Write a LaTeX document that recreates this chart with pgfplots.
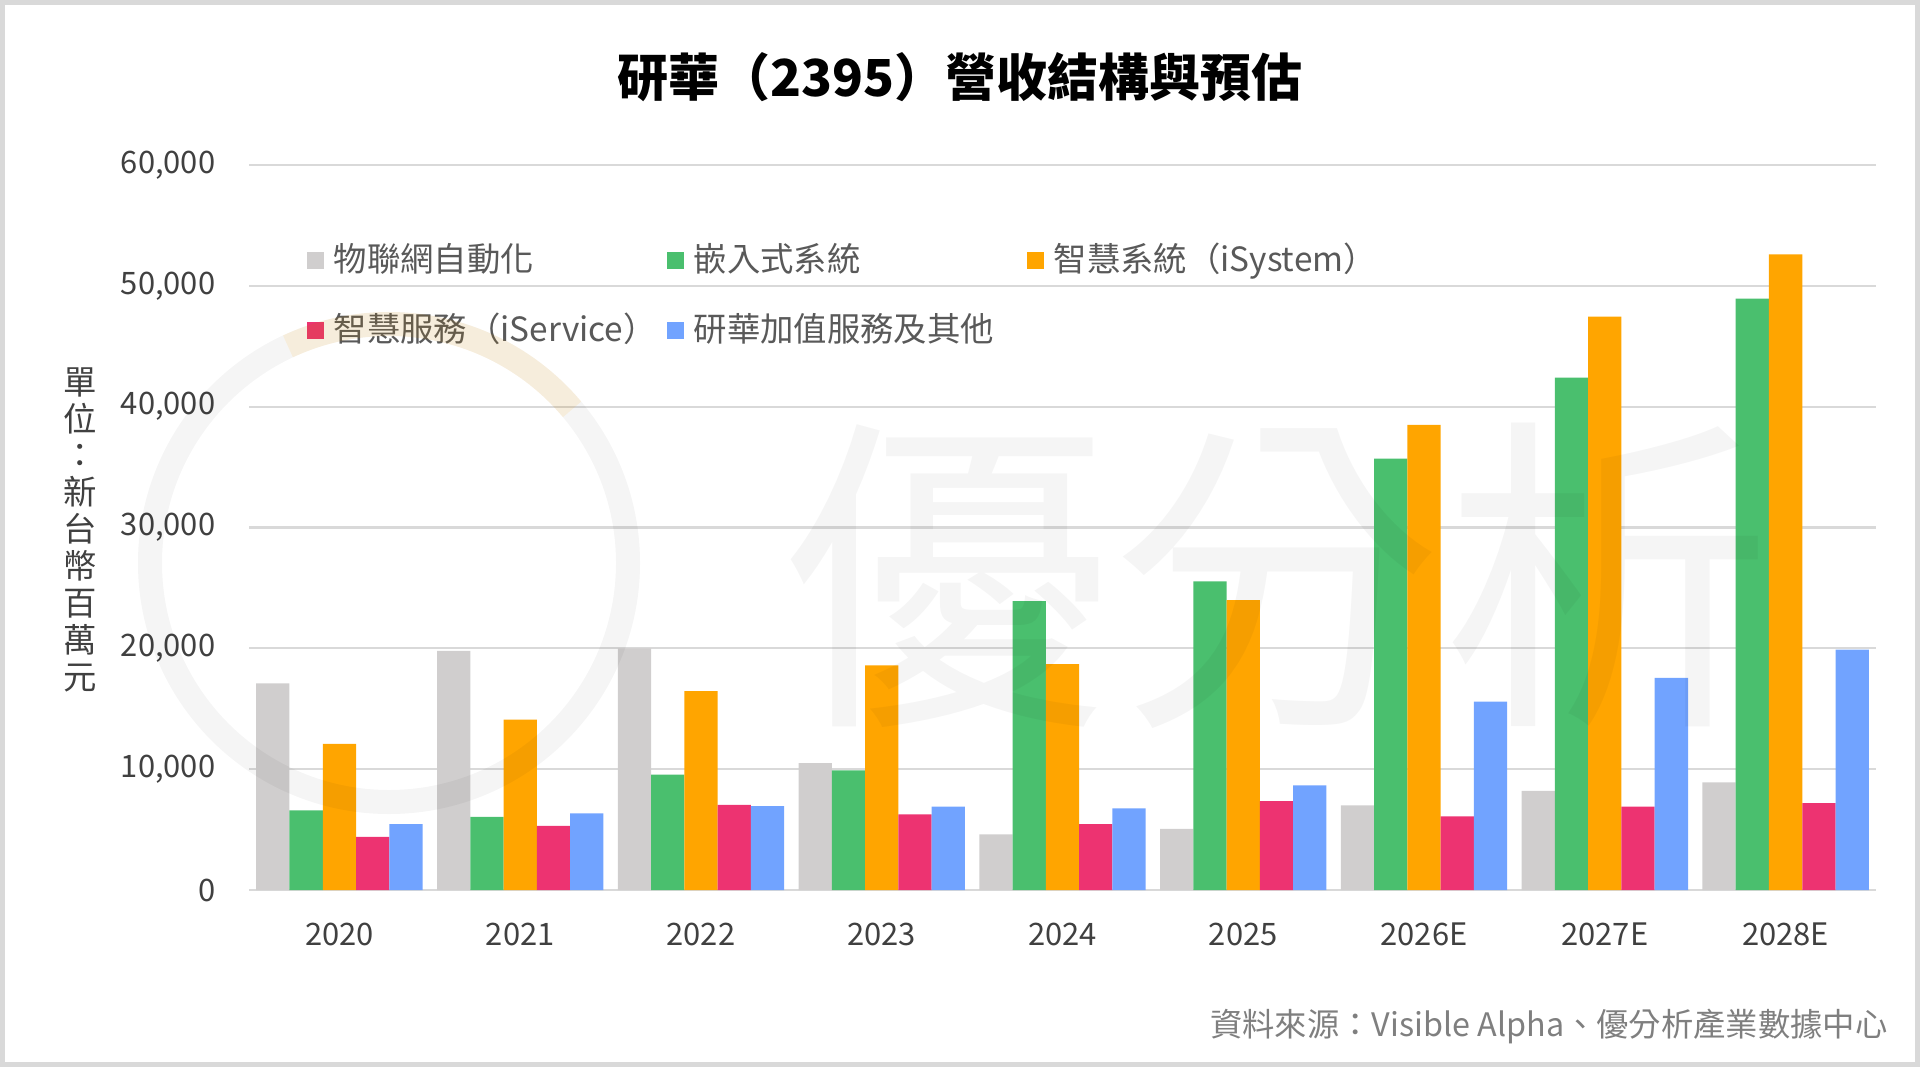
\documentclass[border=0pt]{standalone}
\usepackage{pgfplots}
\pgfplotsset{compat=1.18}
\usepackage{fontspec}
\setmainfont{Noto Sans CJK TC}
\definecolor{cgray}{HTML}{D0CECE}
\definecolor{cgreen}{HTML}{4ABF6E}
\definecolor{corange}{HTML}{FFA500}
\definecolor{cpink}{HTML}{ED3371}
\definecolor{cblue}{HTML}{71A3FF}
\definecolor{gridc}{HTML}{D9D9D9}
\definecolor{tickc}{HTML}{404040}
\definecolor{legc}{HTML}{595959}
\definecolor{srcc}{HTML}{7F7F7F}
\begin{document}
\begin{tikzpicture}
\useasboundingbox (0,0) rectangle (192mm,106.7mm);
\begin{axis}[
  at={(24.9mm,17.7mm)}, anchor=south west,
  scale only axis, width=162.7mm, height=72.5mm,
  xmin=-0.5, xmax=8.5, ymin=0, ymax=60000,
  ytick={0,10000,20000,30000,40000,50000,60000},
  xtick={0,1,2,3,4,5,6,7,8},
  xticklabels={2020,2021,2022,2023,2024,2025,2026E,2027E,2028E},
  ymajorgrids, grid style={color=gridc, line width=0.6pt},
  axis line style={draw=none},
  major tick length=0pt, tick style={draw=none},
  /pgf/number format/assume math mode=true,
  /pgf/number format/1000 sep={,},
  scaled y ticks=false,
  ticklabel style={font=\fontsize{8.8}{10}\selectfont, text=tickc},
  yticklabel style={anchor=east, inner sep=0pt, xshift=-3.3mm},
  xticklabel style={anchor=center, inner sep=0pt, yshift=-4.4mm},
  ylabel={單\\位\\：\\新\\台\\幣\\百\\萬\\元},
  ylabel style={rotate=-90, align=center, font=\fontsize{9.5}{10.5}\selectfont, text=tickc,
    at={(axis description cs:-0.104,0.497)}, anchor=center},
  ybar, bar width=0.184,
  legend columns=3,
  legend style={at={(axis description cs:0.035,0.900)}, anchor=north west,
    draw=none, fill=none, inner sep=0pt,
    font=\fontsize{9.5}{11}\selectfont, text=legc,
    row sep=2.6mm,
    nodes={inner sep=0.5mm},
    /tikz/every odd column/.append style={column sep=0.5mm}},
  legend image code/.code={\fill[#1] (0mm,-0.85mm) rectangle (1.7mm,0.85mm);},
]
\addplot[fill=cgray, draw=none, bar shift=-0.368] coordinates {(0,17100) (1,19800) (2,20000) (3,10500) (4,4600) (5,5050) (6,7000) (7,8200) (8,8900)};
\addplot[fill=cgreen, draw=none, bar shift=-0.184] coordinates {(0,6600) (1,6050) (2,9550) (3,9900) (4,23900) (5,25550) (6,35700) (7,42400) (8,48950)};
\addplot[fill=corange, draw=none, bar shift=0] coordinates {(0,12100) (1,14100) (2,16450) (3,18600) (4,18700) (5,24000) (6,38500) (7,47450) (8,52600)};
\addplot[fill=cpink, draw=none, bar shift=0.184] coordinates {(0,4400) (1,5300) (2,7050) (3,6250) (4,5450) (5,7350) (6,6100) (7,6900) (8,7200)};
\addplot[fill=cblue, draw=none, bar shift=0.368] coordinates {(0,5450) (1,6350) (2,6950) (3,6900) (4,6750) (5,8650) (6,15600) (7,17550) (8,19900)};
\legend{\makebox[32.8mm][l]{物聯網自動化},\makebox[32.8mm][l]{嵌入式系統},\makebox[32.8mm][l]{智慧系統（iSystem）},\makebox[32.8mm][l]{智慧服務（iService）},\makebox[32.8mm][l]{研華加值服務及其他}}
\end{axis}
% watermark
\draw[black, opacity=0.04, line width=2.4mm] (38.9mm,50.4mm) circle (23.9mm);
\draw[corange, opacity=0.10, line width=2.4mm] (38.9mm,50.4mm) ++(40:23.9mm) arc (40:115:23.9mm);
\node[text opacity=0.04, font=\fontsize{94}{94}\selectfont] at (127.7mm,49.1mm) {優分析};
% title and source
\node[font=\fontsize{14.5}{17}\selectfont\bfseries] at (96mm,99.0mm) {研華（2395）營收結構與預估};
\node[anchor=east, font=\fontsize{9.2}{11}\selectfont, text=srcc] at (190.0mm,4.1mm) {資料來源：Visible Alpha、優分析產業數據中心};
\draw[gridc, line width=0.5mm] (0.25mm,0.25mm) rectangle (191.75mm,106.45mm);
\end{tikzpicture}
\end{document}
